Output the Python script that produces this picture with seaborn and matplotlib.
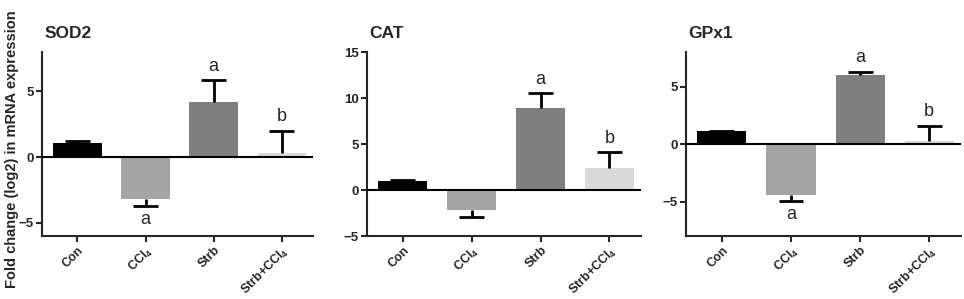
import matplotlib.pyplot as plt
import seaborn as sns
import pandas as pd

groups = ["Con", "CCl$_4$", "Strb", "Strb+CCl$_4$"]
colors = ["#000000", "#a5a5a5", "#7f7f7f", "#d9d9d9"]

sod2_mean = [1.1, -3.2, 4.2, 0.3]
sod2_err = [0.1, 0.5, 1.65, 1.7]
sod2_letters = ["", "a", "a", "b"]

cat_mean = [1.0, -2.2, 8.9, 2.4]
cat_err = [0.1, 0.75, 1.6, 1.7]
cat_letters = ["", "", "a", "b"]

gpx1_mean = [1.1, -4.4, 6.0, 0.3]
gpx1_err = [0.05, 0.55, 0.3, 1.3]
gpx1_letters = ["", "a", "a", "b"]

panels = [
    ("SOD2", sod2_mean, sod2_err, sod2_letters, (-6, 8), [-5, 0, 5]),
    ("CAT", cat_mean, cat_err, cat_letters, (-5, 15), [-5, 0, 5, 10, 15]),
    ("GPx1", gpx1_mean, gpx1_err, gpx1_letters, (-8, 8), [-5, 0, 5]),
]

sns.set_style("ticks")
plt.rcParams['font.family'] = ['Liberation Sans', 'DejaVu Sans']
plt.rcParams['mathtext.fontset'] = 'custom'
plt.rcParams['mathtext.rm'] = 'Liberation Sans:bold'
plt.rcParams['mathtext.it'] = 'Liberation Sans:bold'

fig = plt.figure(figsize=(9.64, 2.99), dpi=100)
lefts = [0.0436, 0.3807, 0.7116]
rights = [0.3247, 0.665, 0.9969]
bottom, top = 0.2107, 0.826

for i, (name, means, errs, letters, ylim, yticks) in enumerate(panels):
    ax = fig.add_axes([lefts[i], bottom, rights[i] - lefts[i], top - bottom])
    df = pd.DataFrame({"group": groups, "value": means})
    sns.barplot(df, x="group", y="value", hue="group", palette=colors,
                legend=False, width=0.71, ax=ax, saturation=1,
                edgecolor="none")
    for j, (m, e) in enumerate(zip(means, errs)):
        end = m + e if m >= 0 else m - e
        # one-sided error bar: stem from bar end, cap only at the far end
        ax.vlines(j, m, end, color="black", lw=2, zorder=5)
        ax.hlines(end, j - 0.18, j + 0.18, color="black", lw=2, zorder=5)
        if letters[j]:
            ax.annotate(letters[j], (j, end), xytext=(0, 4 if m >= 0 else -4),
                        textcoords="offset points", ha="center",
                        va="bottom" if m >= 0 else "top", fontsize=13)
    ax.axhline(0, color="black", lw=1.5, zorder=4)
    ax.set_xlim(-0.52, 3.46)
    ax.set_ylim(*ylim)
    ax.set_yticks(yticks)
    ax.set_xlabel("")
    ax.set_ylabel("")
    ax.set_xticks(range(4))
    ax.set_xticklabels(groups, rotation=45, ha="right", rotation_mode="anchor",
                       fontsize=9, fontweight="bold")
    for lab in ax.get_yticklabels():
        lab.set_fontsize(9.5)
        lab.set_fontweight("bold")
    ax.tick_params(width=1.5, length=4, pad=2)
    sns.despine(ax=ax)
    for s in ["left", "bottom"]:
        ax.spines[s].set_linewidth(1.5)
    ax.text(0.01, 1.1, name, transform=ax.transAxes, fontsize=12.5,
            fontweight="bold", va="center", ha="left")

fig.text(0.012, 0.5, "Fold change (log2) in mRNA expression", rotation=90,
         va="center", ha="center", fontsize=10.5, fontweight="bold")

plt.savefig("out.png", dpi=100)
plt.close()
